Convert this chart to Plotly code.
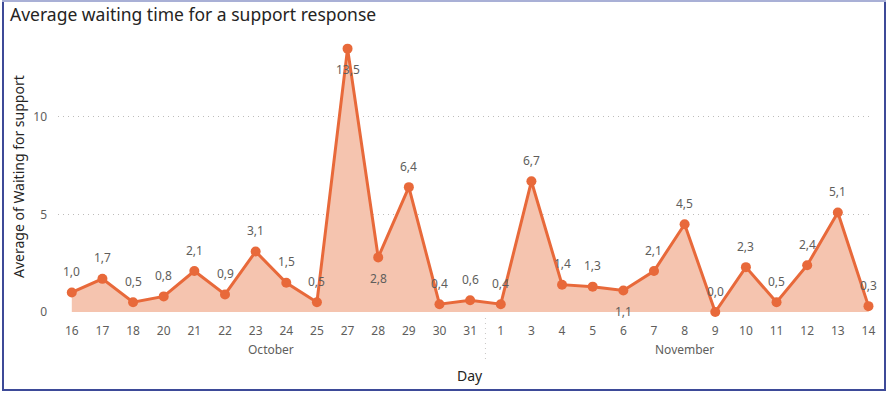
import plotly.graph_objects as go

months = ["October"] * 14 + ["November"] * 13
days = ["16", "17", "18", "20", "21", "22", "23", "24", "25", "27", "28", "29", "30", "31",
        "1", "3", "4", "5", "6", "7", "8", "9", "10", "11", "12", "13", "14"]
values = [1.0, 1.7, 0.5, 0.8, 2.1, 0.9, 3.1, 1.5, 0.5, 13.5, 2.8, 6.4, 0.4, 0.6,
          0.4, 6.7, 1.4, 1.3, 1.1, 2.1, 4.5, 0.0, 2.3, 0.5, 2.4, 5.1, 0.3]
label_below = [False] * 9 + [True, True] + [False] * 7 + [True] + [False] * 8

LINE = "#E8693A"
FILL = "#F5C4AF"
GREY = "#605E5C"
DARK = "#252423"
FONT = "Segoe UI, Noto Sans, sans-serif"

# plot-area pixel geometry
W, H = 888, 393
L, R, T, B = 58, 870, 35, 312


def px(X):
    return (X - L) / (R - L)


def py(Y):
    return (B - Y) / (B - T)


fig = go.Figure()
fig.add_trace(go.Scatter(
    x=days, y=values, mode="lines+markers", fill="tozeroy", cliponaxis=False,
    fillcolor=FILL, line=dict(color=LINE, width=3),
    marker=dict(color=LINE, size=10), hoverinfo="skip", showlegend=False,
))

for i, (v, below) in enumerate(zip(values, label_below)):
    fig.add_annotation(
        x=i, xref="x", y=v, text=f"{v:.1f}".replace(".", ","), showarrow=False,
        yshift=-21 if below else 21, font=dict(family=FONT, size=12, color=GREY),
    )

# month group labels and separators
groups = []
for i, m in enumerate(months):
    if not groups or groups[-1][0] != m:
        groups.append([m, i, i])
    else:
        groups[-1][2] = i
for m, a, b in groups:
    fig.add_annotation(
        x=(a + b) / 2, xref="x", y=py(349), yref="paper", yanchor="middle",
        text=m, showarrow=False, font=dict(family=FONT, size=12, color=GREY),
    )
    fig.add_shape(type="line", xref="x", yref="paper", x0=a - 0.5, x1=a - 0.5,
                  y0=py(318), y1=py(360), line=dict(color="#C8C6C4", width=1, dash="1px,4px"))

fig.add_annotation(x=px(470), xref="paper", y=py(375), yref="paper", yanchor="middle",
                   text="Day", showarrow=False, font=dict(family=FONT, size=14, color=DARK))
fig.add_annotation(x=px(18), xref="paper", y=py(177), yref="paper", yanchor="middle",
                   xanchor="center", textangle=-90, text="Average of Waiting for support",
                   showarrow=False, font=dict(family=FONT, size=14, color=DARK))

# frame
BC = "#3D4A98"
fig.add_shape(type="line", xref="paper", yref="paper", x0=px(3), x1=px(3), y0=py(1), y1=py(390),
              line=dict(color=BC, width=2))
fig.add_shape(type="line", xref="paper", yref="paper", x0=px(885), x1=px(885), y0=py(1), y1=py(390),
              line=dict(color=BC, width=2))
fig.add_shape(type="line", xref="paper", yref="paper", x0=px(2), x1=px(886), y0=py(390), y1=py(390),
              line=dict(color=BC, width=2))
fig.add_shape(type="line", xref="paper", yref="paper", x0=px(2), x1=px(886), y0=py(1), y1=py(1),
              line=dict(color="#A9B0D6", width=2))

fig.update_layout(
    width=W, height=H,
    margin=dict(l=L, r=W - R, t=T, b=H - B),
    paper_bgcolor="white", plot_bgcolor="white",
    title=dict(text="Average waiting time for a support response", xref="container", yref="container",
               x=10 / W, xanchor="left", y=1 - 15 / H, yanchor="middle",
               font=dict(family=FONT, size=17.5, color=DARK)),
    xaxis=dict(type="category", range=[-0.45, len(days) - 0.95], showgrid=False, zeroline=False,
               showline=False, ticks="", tickfont=dict(family=FONT, size=12, color=GREY),
               ticklabelstandoff=10),
    yaxis=dict(range=[0, 14.2], tickvals=[0, 5, 10], showgrid=True, gridcolor="#BEBCBA",
               griddash="1px,4px", gridwidth=1, zeroline=False, showline=False, ticks="",
               tickfont=dict(family=FONT, size=12, color=GREY), ticklabelstandoff=10),
)

fig.write_html("out.html", config={"displayModeBar": False},
               post_script="document.body.style.margin='0';document.body.style.padding='0';document.body.style.overflow='hidden';")
